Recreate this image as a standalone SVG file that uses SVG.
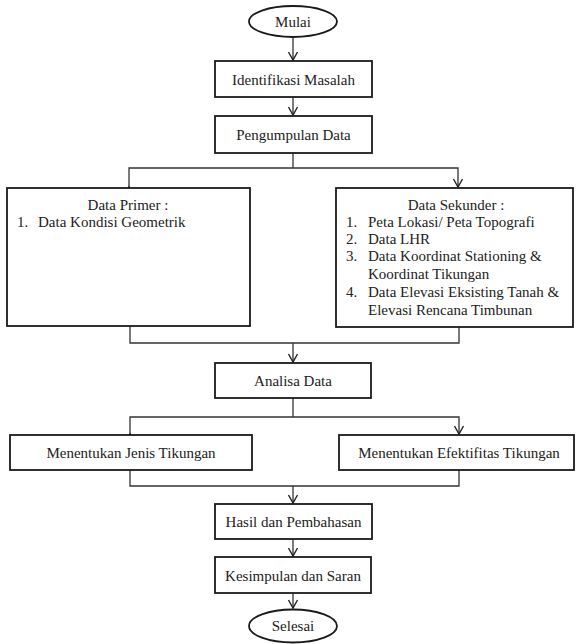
<svg xmlns="http://www.w3.org/2000/svg" width="576" height="644" viewBox="0 0 576 644">
<style>
.box{fill:#fff;stroke:#1a1a1a;stroke-width:1.8}
.t{font-family:'Liberation Serif','Times New Roman',Tinos,'DejaVu Serif',serif;font-size:15px;fill:#222}
.c{text-anchor:middle}
.ln{fill:none;stroke:#333;stroke-width:1.3}
</style>
<defs>
<marker id="ah" viewBox="-10 -6 12 12" markerUnits="userSpaceOnUse" markerWidth="12" markerHeight="12" refX="0" refY="0" orient="auto">
<path d="M-8,-4.5 L0,0 L-8,4.5" fill="none" stroke="#222" stroke-width="1.4"/>
</marker>
</defs>
<g id="connectors">
<line class="ln" x1="293" y1="37" x2="293" y2="60" marker-end="url(#ah)"/>
<line class="ln" x1="293" y1="97" x2="293" y2="115" marker-end="url(#ah)"/>
<polyline class="ln" points="293,153 293,168"/>
<polyline class="ln" points="129,187 129,168 458,168 458,187" marker-start="url(#ah)" marker-end="url(#ah)"/>
<polyline class="ln" points="130,326 130,343 459,343 459,327"/>
<line class="ln" x1="293" y1="343" x2="293" y2="362" marker-end="url(#ah)"/>
<polyline class="ln" points="293,398 293,417"/>
<polyline class="ln" points="130,434 130,417 459,417 459,434" marker-start="url(#ah)" marker-end="url(#ah)"/>
<polyline class="ln" points="130,470 130,486 459,486 459,470"/>
<line class="ln" x1="293" y1="486" x2="293" y2="503" marker-end="url(#ah)"/>
<line class="ln" x1="293" y1="539" x2="293" y2="556" marker-end="url(#ah)"/>
<line class="ln" x1="293" y1="593" x2="293" y2="608" marker-end="url(#ah)"/>
</g>
<g id="mulai">
<ellipse class="box" cx="293" cy="21.5" rx="44" ry="15.5"/>
<text class="t c" x="293" y="26.5" font-family="Liberation Serif, serif">Mulai</text>
</g>
<g id="identifikasi">
<rect class="box" x="215" y="61" width="157" height="36"/>
<text class="t c" x="293.5" y="84.5">Identifikasi  Masalah</text>
</g>
<g id="pengumpulan">
<rect class="box" x="215" y="116" width="157" height="37"/>
<text class="t c" x="293.5" y="139.5">Pengumpulan Data</text>
</g>
<g id="primer">
<rect class="box" x="7" y="188" width="243" height="138"/>
<text class="t c" x="128" y="210">Data Primer :</text>
<text class="t" x="17" y="227">1.</text>
<text class="t" x="38" y="227">Data Kondisi Geometrik</text>
</g>
<g id="sekunder">
<rect class="box" x="336" y="188" width="237" height="139"/>
<text class="t c" x="456" y="210">Data Sekunder :</text>
<text class="t" x="346" y="227">1.</text>
<text class="t" x="368" y="227">Peta Lokasi/ Peta Topografi</text>
<text class="t" x="346" y="244">2.</text>
<text class="t" x="368" y="244">Data LHR</text>
<text class="t" x="346" y="261">3.</text>
<text class="t" x="368" y="261">Data Koordinat Stationing &amp;</text>
<text class="t" x="368" y="279">Koordinat Tikungan</text>
<text class="t" x="346" y="297">4.</text>
<text class="t" x="368" y="297">Data Elevasi Eksisting Tanah &amp;</text>
<text class="t" x="368" y="315">Elevasi  Rencana Timbunan</text>
</g>
<g id="analisa">
<rect class="box" x="215" y="363" width="156" height="35"/>
<text class="t c" x="293" y="386">Analisa Data</text>
</g>
<g id="jenis">
<rect class="box" x="10" y="435" width="242" height="35"/>
<text class="t c" x="131" y="458">Menentukan Jenis Tikungan</text>
</g>
<g id="efektifitas">
<rect class="box" x="339" y="435" width="235" height="35"/>
<text class="t c" x="459" y="458">Menentukan Efektifitas  Tikungan</text>
</g>
<g id="hasil">
<rect class="box" x="215" y="504" width="157" height="35"/>
<text class="t c" x="293.5" y="527">Hasil dan Pembahasan</text>
</g>
<g id="kesimpulan">
<rect class="box" x="215" y="557" width="156" height="36"/>
<text class="t c" x="293" y="580.5">Kesimpulan dan Saran</text>
</g>
<g id="selesai">
<ellipse class="box" cx="293" cy="626" rx="44" ry="16.5"/>
<text class="t c" x="293" y="631">Selesai</text>
</g>
</svg>
